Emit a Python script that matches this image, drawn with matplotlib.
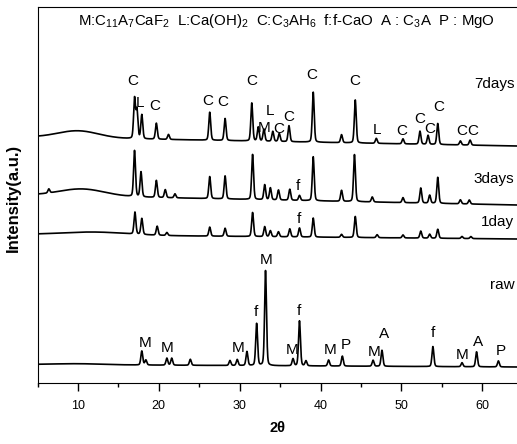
import numpy as np
import matplotlib
matplotlib.use("Agg")
import matplotlib.pyplot as plt
from matplotlib.ticker import MultipleLocator

plt.rcParams['font.family'] = ['Liberation Sans', 'DejaVu Sans']
plt.rcParams['mathtext.fontset'] = 'custom'
plt.rcParams['mathtext.rm'] = 'Liberation Sans'
plt.rcParams['mathtext.it'] = 'Liberation Sans'

# peak positions (2theta) and heights, per pattern
raw_pos = [17.9, 18.4, 21.0, 21.6, 23.9, 28.8, 29.7, 30.9, 32.1, 33.2, 36.6, 37.4,
           38.2, 41.0, 42.7, 46.5, 47.6, 53.9, 57.5, 59.3, 62.0]
raw_h = [14, 5, 7, 7, 6, 5, 6, 14, 42, 95, 7, 45, 5, 6, 10, 6, 16, 20, 4, 15, 6]

day1_pos = [17.05, 17.9, 19.8, 21.0, 26.3, 28.2, 31.6, 33.1, 33.8, 34.8, 36.2, 37.4,
            39.1, 42.6, 44.3, 47.0, 50.2, 52.4, 53.5, 54.5, 57.5, 58.6]
day1_h = [22, 16, 9, 3, 9, 8, 24, 10, 6, 5, 8, 9, 19, 3, 21, 3, 3, 7, 4, 9, 2, 2]

day3_pos = [6.4, 17.0, 17.8, 19.7, 20.8, 22.0, 26.3, 28.2, 31.6, 33.1, 33.8, 34.8,
            36.2, 37.4, 39.1, 42.6, 44.2, 46.4, 50.2, 52.4, 53.5, 54.5, 57.3, 58.4]
day3_h = [4, 46, 25, 17, 8, 4, 22, 23, 45, 15, 12, 10, 11, 5, 44, 11, 47, 5, 5, 15,
          8, 26, 4, 4]

day7_pos = [17.0, 17.3, 17.9, 19.7, 21.2, 26.3, 28.2, 31.5, 32.3, 33.0, 34.1, 34.9,
            36.1, 39.1, 42.6, 44.3, 46.9, 50.2, 52.3, 53.3, 54.5, 57.3, 58.5]
day7_h = [40, 28, 24, 16, 5, 28, 22, 38, 14, 12, 10, 8, 16, 50, 8, 43, 5, 5, 13, 9,
          21, 4, 5]

# background level at 5 deg and at the right edge, and the amorphous hump
names = ['raw', '1day', '3days', '7days']
bg_left = [18.5, 148.5, 188, 246]
bg_right = [16, 144, 178, 237]
hump_pos = [10.0, 12.0, 10.5, 10.0]
hump_h = [1, 3, 7, 7]
hump_w = [3.0, 4.0, 2.8, 2.5]

peaks = [(raw_pos, raw_h), (day1_pos, day1_h), (day3_pos, day3_h), (day7_pos, day7_h)]

x = np.arange(5, 64.31, 0.02)


def pattern(i):
    y = np.linspace(bg_left[i], bg_right[i], len(x))
    y += hump_h[i] * np.exp(-0.5 * ((x - hump_pos[i]) / hump_w[i]) ** 2)
    for p, a in zip(*peaks[i]):
        d = (x - p) / 0.12
        y += a * (0.7 * np.exp(-0.5 * d ** 2) + 0.3 / (1 + d ** 2))
    return y


fig = plt.figure(figsize=(5.17, 4.44), dpi=100)
ax = fig.add_axes([37.5 / 517, 61 / 444, 1 - 37.5 / 517, 376 / 444])
for i in range(4):
    ax.plot(x, pattern(i), color='black', lw=1.2)

ax.set_xlim(5, 64.3)
ax.set_ylim(0, 376)
ax.spines['right'].set_visible(False)
ax.set_yticks([])
ax.xaxis.set_major_locator(MultipleLocator(10))
ax.xaxis.set_minor_locator(MultipleLocator(5))
ax.tick_params(axis='x', which='major', direction='out', length=6, width=1,
               labelsize=9, pad=6)
ax.tick_params(axis='x', which='minor', direction='out', length=3, width=1)
fig.text(277 / 517, 1 - 428 / 444, '2θ', ha='center', va='center',
         fontsize=10.5, fontweight='bold')
fig.text(13 / 517, 1 - 198 / 444, 'Intensity(a.u.)', rotation=90, ha='center',
         va='center', fontsize=12, fontweight='bold')


def px(xp, yp):
    return 10 + (xp - 78) / 8.08, 383 - yp


labels = [
    # 7days
    ('C', 133, 81), ('L', 140, 103), ('C', 155, 106), ('C', 208, 101), ('C', 223, 102),
    ('C', 252, 81), ('M', 264, 128), ('L', 270, 111), ('C', 279, 129), ('C', 289, 117),
    ('C', 312, 75), ('C', 355, 81), ('L', 377, 130), ('C', 402, 131), ('C', 420, 119),
    ('C', 430, 129), ('C', 439, 107), ('C', 462, 131), ('C', 473, 131),
    # 3days / 1day
    ('f', 298, 186), ('f', 299, 219),
    # raw
    ('M', 266, 260), ('f', 256, 312), ('f', 299, 311), ('M', 145, 343), ('M', 167, 348),
    ('M', 238, 348), ('M', 292, 350), ('M', 330, 350), ('P', 346, 345), ('M', 374, 352),
    ('A', 384, 334), ('f', 433, 333), ('M', 462, 355), ('A', 478, 342), ('P', 501, 351),
]
for t, xp, yp in labels:
    ax.text(*px(xp, yp), t, ha='center', va='center', fontsize=11)

for t, yp in zip(['7days', '3days', '1day', 'raw'], [84, 179, 222, 285]):
    ax.text(*px(514, yp), t, ha='right', va='center', fontsize=11)

ax.text(*px(78, 21),
        r'M:C$_{11}$A$_7$CaF$_2$  L:Ca(OH)$_2$  C:C$_3$AH$_6$  f:f-CaO  A : C$_3$A  P : MgO',
        ha='left', va='center', fontsize=10.8)

fig.savefig('out.png', dpi=100)
